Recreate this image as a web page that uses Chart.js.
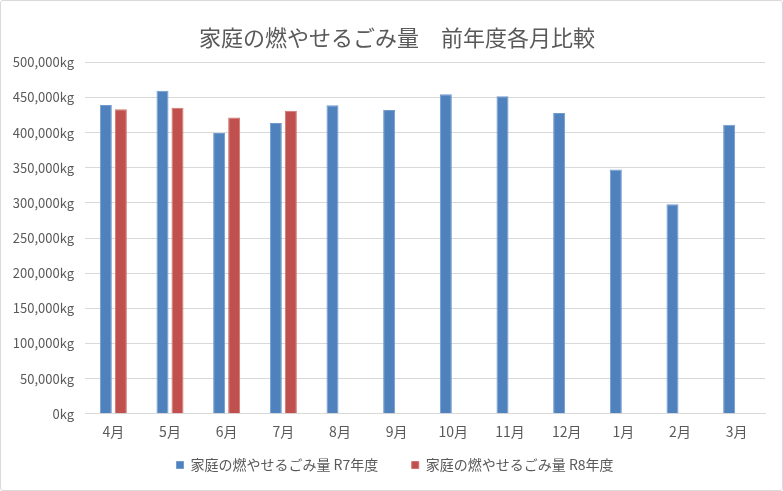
<!DOCTYPE html>
<html><head><meta charset="utf-8">
<script src="https://cdn.jsdelivr.net/npm/chart.js@4"></script>
<style>
html,body{margin:0;padding:0;background:#fff;}
#wrap{position:relative;width:781px;height:489px;border:1px solid #d9d9d9;border-radius:3px;}
</style></head><body>
<div id="wrap"><canvas id="c"></canvas></div>
<script>
const months = ["4月","5月","6月","7月","8月","9月","10月","11月","12月","1月","2月","3月"];
const r7Values = [439500,459800,399600,413800,438900,432300,454600,451700,428100,347700,298100,411400];
const r8Values = [433200,435600,421400,431300,null,null,null,null,null,null,null,null];
const seriesNames = ["家庭の燃やせるごみ量 R7年度","家庭の燃やせるごみ量 R8年度"];
const titleText = "家庭の燃やせるごみ量　前年度各月比較";
const yMax = 500000, yStep = 50000;

const FONT = "'Noto Sans CJK JP','Noto Sans',sans-serif";

// shift title and legend centres slightly right, as in the original
const shiftPlugin = {
  id: 'shiftBoxes',
  afterLayout(chart) {
    if (chart.titleBlock) chart.titleBlock.left += 28;
    if (chart.legend) chart.legend.left += 24;
  }
};

new Chart(document.getElementById('c'), {
  type: 'bar',
  plugins: [shiftPlugin],
  data: {
    labels: months,
    datasets: [
      {label: seriesNames[0], data: r7Values, backgroundColor: '#4F81BD', borderColor: '#6f9bd0', borderWidth: 1,
       categoryPercentage: 0.53, barPercentage: 0.8},
      {label: seriesNames[1], data: r8Values, backgroundColor: '#C0504D', borderColor: '#d27370', borderWidth: 1,
       categoryPercentage: 0.53, barPercentage: 0.8}
    ]
  },
  options: {
    responsive: true, maintainAspectRatio: false, animation: false,
    layout: {padding: {left: 0, right: 17, top: 23, bottom: 8}},
    plugins: {
      title: {display: true, text: titleText, color: '#595959',
              font: {family: FONT, size: 22, weight: 'normal'}, padding: {top: 0, bottom: 12}},
      legend: {position: 'bottom',
               labels: {color: '#595959', font: {family: FONT, size: 14}, boxWidth: 7, boxHeight: 7, padding: 5.5,
                        generateLabels: chart => {
                          const items = Chart.defaults.plugins.legend.labels.generateLabels(chart);
                          items.forEach((it, i) => { if (i < items.length - 1) it.text = it.text + '　　'; });
                          return items;
                        }}},
      tooltip: {enabled: false}
    },
    scales: {
      x: {
        afterFit: s => { s.height += 2; },
        grid: {display: false, drawTicks: false},
        border: {display: true, color: '#d9d9d9'},
        ticks: {color: '#595959', font: {family: FONT, size: 14}, padding: 10, maxRotation: 0}
      },
      y: {
        min: 0, max: yMax,
        afterFit: s => { s.width = 84; },
        grid: {color: '#d9d9d9', drawTicks: false},
        border: {display: false},
        ticks: {stepSize: yStep, color: '#595959', font: {family: FONT, size: 13}, padding: 11,
                callback: v => v.toLocaleString('en-US') + 'kg'}
      }
    }
  }
});
</script>
</body></html>
